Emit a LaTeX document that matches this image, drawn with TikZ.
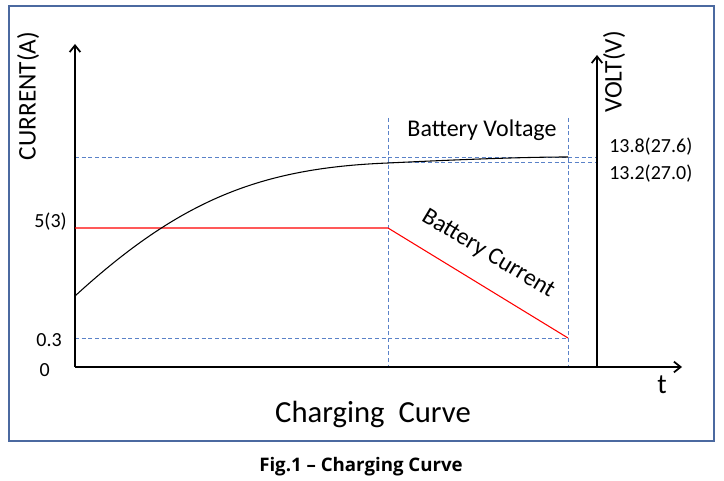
\documentclass[tikz,border=0pt]{standalone}
\usetikzlibrary{arrows.meta}
\usepackage{fontspec}
\setmainfont{Carlito}
\newfontfamily\capfont{Open Sans}
\begin{document}
\begin{tikzpicture}[x=0.75pt,y=-0.75pt,
  ax/.style={line width=1.3pt,-{Straight Barb[length=5pt,width=8pt]}},
  guide/.style={densely dashed,draw={rgb,255:red,90;green,130;blue,200},line width=0.5pt},
  lbl/.style={font=\fontsize{15}{17}\selectfont,inner sep=0pt}]
\useasboundingbox (0,0) rectangle (724,481);
\fill[white] (0,0) rectangle (724,481);
\draw[draw={rgb,255:red,75;green,105;blue,160},line width=2pt] (9,6) rectangle (714,441);
% guides
\draw[guide] (75,157) -- (597,157);
\draw[guide] (388,162) -- (597,162);
\draw[guide] (75,338) -- (568,338);
\draw[guide] (388,118) -- (388,367);
\draw[guide] (568,118) -- (568,367);
% axes
\coordinate (o) at (75,367);
\coordinate (ytop) at (75,44);
\coordinate (xend) at (682,367);
\coordinate (ro) at (597,367);
\coordinate (rtop) at (597,55);
\draw[ax] (o) -- (ytop);
\draw[ax] (o) -- (xend);
\draw[ax] (ro) -- (rtop);
% curves
\draw[red,line width=0.8pt] (75,228) -- (388,228) -- (568,338);
\draw[black,line width=0.8pt] (75,296) .. controls (180,200) and (260,168) .. (388,163) .. controls (450,160) and (520,157) .. (568,157);
% labels
\node[lbl,rotate=90,font=\fontsize{19}{21}\selectfont] (cur) at (28,96) {CURRENT(A)};
\node[lbl,rotate=90,font=\fontsize{19}{21}\selectfont] (volt) at (614,72) {VOLT(V)};
\node[lbl,font=\fontsize{18}{20}\selectfont] (vl) at (482,130) {Battery Voltage};
\node[lbl,font=\fontsize{18}{20}\selectfont,rotate=-31] (cl) at (488,254) {Battery Current};
\node[lbl,anchor=west] (v1) at (609,147) {13.8(27.6)};
\node[lbl,anchor=west] (v2) at (609,174) {13.2(27.0)};
\node[lbl,anchor=east] (a5) at (67,222) {5(3)};
\node[lbl,anchor=east] (a03) at (62,340) {0.3};
\node[lbl,anchor=east] (a0) at (50,370) {0};
\node[lbl,font=\fontsize{21}{23}\selectfont] (t) at (662,385) {t};
\node[lbl,font=\fontsize{23}{26}\selectfont] (title) at (373,414) {Charging\ \ Curve};
\node[inner sep=0pt,font=\capfont\bfseries\fontsize{14}{16}\selectfont] (cap) at (361,467) {Fig.1 – Charging Curve};
\end{tikzpicture}
\end{document}
